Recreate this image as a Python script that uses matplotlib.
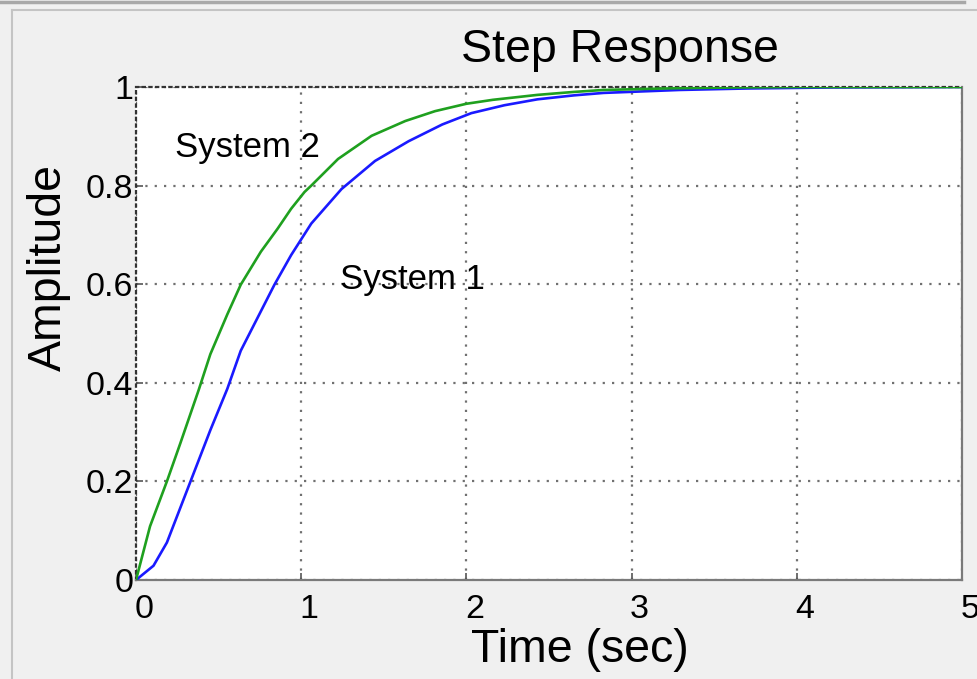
import matplotlib
matplotlib.use("Agg")
import matplotlib.pyplot as plt
import matplotlib.transforms as mtransforms
from matplotlib.lines import Line2D

# values
t_sys1 = [0, 0.106, 0.187, 0.33, 0.45, 0.553, 0.634, 0.736, 0.838, 0.939,
          1.061, 1.244, 1.447, 1.65, 1.854, 2.03, 2.23, 2.43, 2.65, 2.83,
          3.29, 3.7, 4.2, 5.0]
y_sys1 = [0, 0.029, 0.076, 0.2, 0.304, 0.388, 0.465, 0.532, 0.599, 0.659,
          0.723, 0.793, 0.85, 0.89, 0.924, 0.947, 0.963, 0.975, 0.983, 0.988,
          0.994, 0.997, 0.999, 1.0]

t_sys2 = [0, 0.085, 0.187, 0.268, 0.38, 0.45, 0.553, 0.634, 0.756, 0.858,
          0.939, 1.02, 1.061, 1.223, 1.426, 1.63, 1.81, 2.0, 2.16, 2.43,
          2.65, 2.83, 3.2, 3.6, 4.0, 4.5, 5.0]
y_sys2 = [0, 0.109, 0.2, 0.277, 0.386, 0.458, 0.539, 0.599, 0.666, 0.713,
          0.753, 0.787, 0.80, 0.854, 0.901, 0.931, 0.951, 0.966, 0.974, 0.984,
          0.99, 0.994, 0.997, 0.999, 1.0, 1.0, 1.0]

x_ticks = [0, 1, 2, 3, 4, 5]
y_ticks = [0, 0.2, 0.4, 0.6, 0.8, 1]
y_ticklabels = ["0", "0.2", "0.4", "0.6", "0.8", "1"]

plt.rcParams["font.family"] = ["Liberation Sans", "DejaVu Sans"]

bg = "#f0f0f0"
fig = plt.figure(figsize=(9.78, 6.79), dpi=100, facecolor=bg)
ax = fig.add_axes([136 / 978, 1 - 580 / 679, 826 / 978, 493 / 679])
ax.set_facecolor("white")

ax.plot(t_sys1, y_sys1, color="#1a1aff", lw=1.9, zorder=3)
ax.plot(t_sys2, y_sys2, color="#1fa01f", lw=1.9, zorder=4)

ax.set_xlim(0, 5)
ax.set_ylim(0, 1)
ax.set_xticks(x_ticks)
ax.set_yticks(y_ticks)
ax.set_yticklabels(y_ticklabels)
ax.grid(True, color="#707070", linestyle=(0, (1, 3.2)), linewidth=1.6)

ax.tick_params(direction="in", length=5, width=1.2, color="#555555",
               labelsize=24.5, labelcolor="black")
ax.tick_params(axis="x", pad=10)
ax.tick_params(axis="y", pad=2)

# xtick labels sit a little right of their ticks in the original
shift = mtransforms.ScaledTranslation(8 / 100, 0, fig.dpi_scale_trans)
for lab in ax.get_xticklabels():
    lab.set_transform(lab.get_transform() + shift)

for side in ("bottom", "right"):
    ax.spines[side].set_color("#7a7a7a")
    ax.spines[side].set_linewidth(1.6)
for side in ("top", "left"):
    ax.spines[side].set_color("#333333")
    ax.spines[side].set_linewidth(1.6)
    ax.spines[side].set_linestyle((0, (1, 2)))

ax.text(0.586, 1.051, "Step Response", transform=ax.transAxes,
        ha="center", va="baseline", fontsize=33.5)
ax.text(0.5375, -0.166, "Time (sec)", transform=ax.transAxes,
        ha="center", va="baseline", fontsize=33.5)
ax.text(-0.106, 0.634, "Amplitude", transform=ax.transAxes, rotation=90,
        ha="center", va="center", fontsize=33.5)

ax.text(0.236, 0.878, "System 2", ha="left", va="center", fontsize=25)
ax.text(1.235, 0.609, "System 1", ha="left", va="center", fontsize=25)

# window frame lines
fig.add_artist(Line2D([0, 964 / 978], [1 - 1.5 / 679] * 2, color="#a8a8a8",
                      lw=2.5, transform=fig.transFigure))
fig.add_artist(Line2D([12 / 978, 1], [1 - 10 / 679] * 2, color="#c4c4c4",
                      lw=1.5, transform=fig.transFigure))
fig.add_artist(Line2D([12 / 978] * 2, [0, 1 - 10 / 679], color="#c4c4c4",
                      lw=1.5, transform=fig.transFigure))

fig.savefig("out.png", dpi=100, facecolor=bg)
